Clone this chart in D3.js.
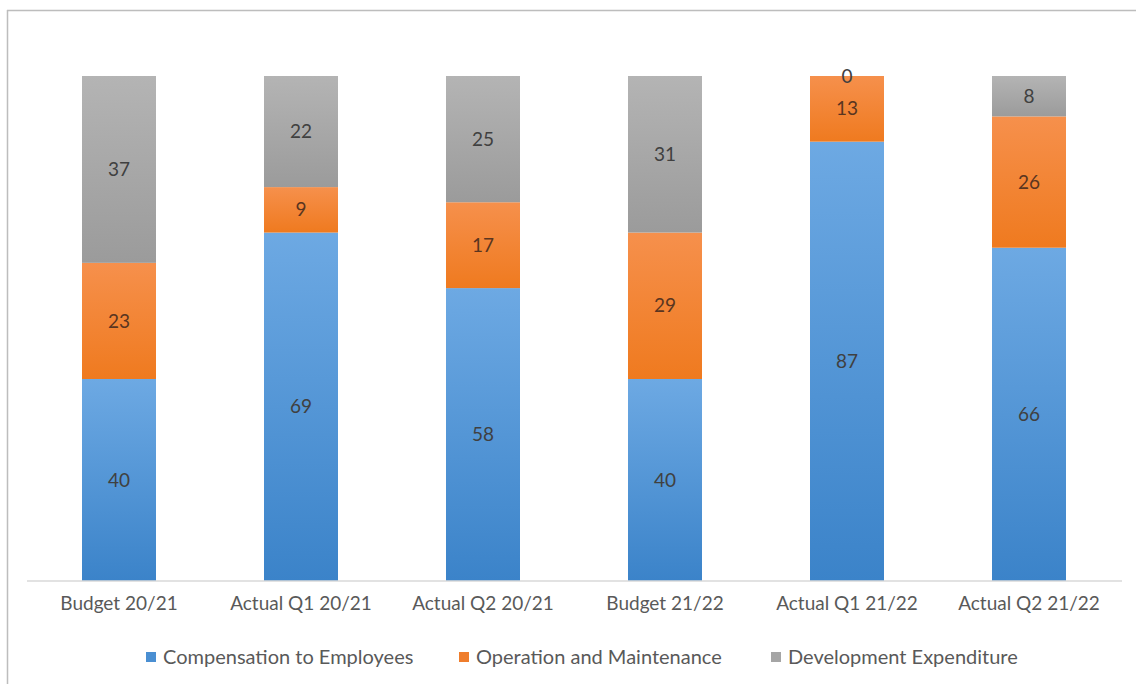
<!DOCTYPE html>
<html><head><meta charset="utf-8">
<script src="https://cdn.jsdelivr.net/npm/d3@7"></script>
<style>html,body{margin:0;padding:0;background:#fff;}svg{display:block;}</style>
</head><body>
<script>
const categories = ["Budget 20/21","Actual Q1 20/21","Actual Q2 20/21","Budget 21/22","Actual Q1 21/22","Actual Q2 21/22"];
const compensation = [40,69,58,40,87,66];
const operation = [23,9,17,29,13,26];
const development = [37,22,25,31,0,8];
const seriesNames = ["Compensation to Employees","Operation and Maintenance","Development Expenditure"];

const W=1136,H=684;
const svg=d3.select("body").append("svg").attr("width",W).attr("height",H);
const font="Lato, 'Open Sans', sans-serif";

const cols=[
  {top:"#6da9e3",bot:"#3b83c9",leg:"#4a8fd2",lab:"#404040"},
  {top:"#f6904c",bot:"#ef7a1f",leg:"#ef7d2c",lab:"#5a3520"},
  {top:"#b4b4b4",bot:"#9b9b9b",leg:"#a5a5a5",lab:"#404040"}
];
const defs=svg.append("defs");
cols.forEach((c,i)=>{
  const g=defs.append("linearGradient").attr("id","g"+i).attr("x1",0).attr("y1",0).attr("x2",0).attr("y2",1);
  g.append("stop").attr("offset","0%").attr("stop-color",c.top);
  g.append("stop").attr("offset","100%").attr("stop-color",c.bot);
});

// frame
svg.append("line").attr("x1",7).attr("x2",W).attr("y1",10.5).attr("y2",10.5).attr("stroke","#bdbdbd").attr("stroke-width",1.5);
svg.append("line").attr("x1",7.5).attr("x2",7.5).attr("y1",10).attr("y2",H).attr("stroke","#bdbdbd").attr("stroke-width",1.5);

const x=d3.scaleBand().domain(categories).range([28,1120]).paddingInner(1-74/182).paddingOuter((1-74/182)/2);
const y=d3.scaleLinear().domain([0,100]).range([581,76]);

const rows=categories.map((c,i)=>({cat:c,s0:compensation[i],s1:operation[i],s2:development[i]}));
const stack=d3.stack().keys(["s0","s1","s2"])(rows);

stack.forEach((layer,li)=>{
  const g=svg.append("g");
  g.selectAll("rect").data(layer).join("rect")
    .attr("x",d=>x(d.data.cat)).attr("width",x.bandwidth())
    .attr("y",d=>y(d[1])).attr("height",d=>y(d[0])-y(d[1]))
    .attr("fill","url(#g"+li+")");
});

// axis
const ax=svg.append("g").attr("transform","translate(0,581)").call(d3.axisBottom(x).tickSize(0).tickPadding(16));
ax.select(".domain").attr("stroke","#d9d9d9").attr("stroke-width",1.5).attr("d","M27,0H1122");
ax.selectAll("text").attr("font-family",font).attr("font-size",19).attr("fill","#595959");

// labels
stack.forEach((layer,li)=>{
  svg.append("g").selectAll("text").data(layer).join("text")
    .attr("x",d=>x(d.data.cat)+x.bandwidth()/2)
    .attr("y",d=>(y(d[0])+y(d[1]))/2)
    .attr("dy","0.35em").attr("text-anchor","middle")
    .attr("font-family",font).attr("font-size",19).attr("fill",cols[li].lab)
    .text(d=>d[1]-d[0]);
});

// legend
const legX=[146,459,771];
seriesNames.forEach((n,i)=>{
  svg.append("rect").attr("x",legX[i]).attr("y",652).attr("width",10).attr("height",10).attr("fill",cols[i].leg);
  svg.append("text").attr("x",legX[i]+17).attr("y",657).attr("dy","0.35em")
    .attr("font-family",font).attr("font-size",20).attr("fill","#595959").text(n);
});
</script>
</body></html>
